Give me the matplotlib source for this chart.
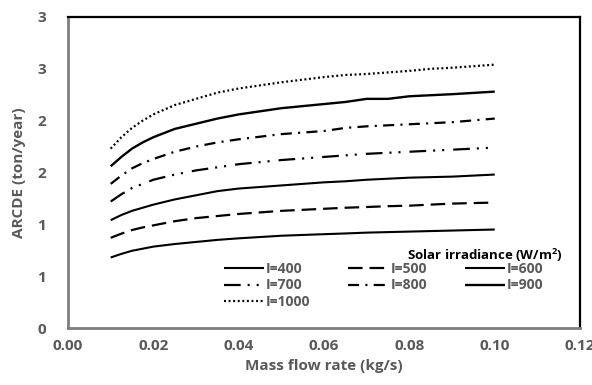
import matplotlib
matplotlib.use("Agg")
import matplotlib.pyplot as plt

# Mass flow rate (kg/s)
flow = [0.010, 0.0125, 0.015, 0.0175, 0.020, 0.025, 0.030, 0.035, 0.040,
        0.050, 0.060, 0.065, 0.070, 0.075, 0.080, 0.085, 0.090, 0.100]

# ARCDE (ton/year) per solar irradiance level
arcde_400 = [0.68, 0.715, 0.745, 0.765, 0.785, 0.81, 0.83, 0.85, 0.865,
             0.89, 0.905, 0.912, 0.92, 0.925, 0.93, 0.935, 0.94, 0.95]
arcde_500 = [0.87, 0.91, 0.945, 0.97, 0.99, 1.03, 1.06, 1.08, 1.10,
             1.13, 1.15, 1.16, 1.167, 1.175, 1.18, 1.19, 1.20, 1.21]
arcde_600 = [1.04, 1.09, 1.13, 1.16, 1.19, 1.24, 1.28, 1.32, 1.345,
             1.375, 1.405, 1.415, 1.43, 1.44, 1.45, 1.455, 1.46, 1.48]
arcde_700 = [1.22, 1.29, 1.35, 1.39, 1.43, 1.48, 1.52, 1.55, 1.58,
             1.62, 1.65, 1.665, 1.68, 1.69, 1.70, 1.71, 1.72, 1.74]
arcde_800 = [1.39, 1.47, 1.54, 1.59, 1.63, 1.70, 1.75, 1.79, 1.82,
             1.87, 1.90, 1.93, 1.945, 1.955, 1.965, 1.975, 1.985, 2.02]
arcde_900 = [1.56, 1.65, 1.73, 1.79, 1.84, 1.92, 1.97, 2.02, 2.06,
             2.12, 2.16, 2.18, 2.21, 2.21, 2.235, 2.245, 2.255, 2.28]
arcde_1000 = [1.73, 1.84, 1.93, 2.00, 2.06, 2.15, 2.21, 2.27, 2.31,
              2.37, 2.42, 2.44, 2.45, 2.465, 2.48, 2.50, 2.51, 2.54]

labels = ["I=400", "I=500", "I=600", "I=700", "I=800", "I=900", "I=1000"]

y_ticks = [0, 0.5, 1.0, 1.5, 2.0, 2.5, 3.0]
y_tick_labels = ["0", "1", "1", "2", "2", "3", "3"]
x_ticks = [0.00, 0.02, 0.04, 0.06, 0.08, 0.10, 0.12]

plt.rcParams["font.family"] = ["Open Sans", "DejaVu Sans"]
plt.rcParams["lines.scale_dashes"] = False
plt.rcParams["mathtext.fontset"] = "custom"
plt.rcParams["mathtext.bf"] = "Open Sans:bold"
plt.rcParams["mathtext.rm"] = "Open Sans:bold"
GREY = "#595959"

series = [arcde_400, arcde_500, arcde_600, arcde_700, arcde_800, arcde_900, arcde_1000]
styles = [
    dict(ls="-", lw=1.5),
    dict(ls=(0, (10.5, 5.0)), lw=1.6),
    dict(ls="-", lw=1.5),
    dict(ls=(0, (12.0, 5.0, 1.5, 5.0, 1.5, 6.5)), lw=1.6),
    dict(ls=(0, (8.0, 4.5, 1.5, 4.5)), lw=1.6),
    dict(ls="-", lw=1.7),
    dict(ls=(0, (1.4, 1.9)), lw=1.6),
]

fig = plt.figure(figsize=(5.92, 3.85), dpi=100, facecolor="white")
ax = fig.add_axes([0.1149, 0.148, 0.865, 0.808])

handles = []
for vals, lab, st in zip(series, labels, styles):
    h, = ax.plot(flow, vals, color="black", linestyle=st["ls"], lw=st["lw"],
                 dash_capstyle="butt", solid_capstyle="butt",
                 solid_joinstyle="round", label=lab)
    handles.append(h)

ax.set_xlim(0, 0.12)
ax.set_ylim(0, 3.0)
ax.set_xticks(x_ticks)
ax.set_xticklabels([f"{t:.2f}" for t in x_ticks])
ax.set_yticks(y_ticks)
ax.set_yticklabels(y_tick_labels)
ax.tick_params(length=0, labelsize=11, labelcolor=GREY)
ax.tick_params(axis="x", pad=8)
ax.tick_params(axis="y", pad=16)
for t in ax.get_xticklabels() + ax.get_yticklabels():
    t.set_fontweight("bold")

for side in ("top", "right"):
    ax.spines[side].set_color("black")
    ax.spines[side].set_linewidth(1.6)
for side in ("left", "bottom"):
    ax.spines[side].set_color("#7f7f7f")
    ax.spines[side].set_linewidth(2.0)

ax.set_xlabel("Mass flow rate (kg/s)", fontsize=11, fontweight="bold",
              color=GREY, labelpad=4)
ax.set_ylabel("ARCDE (ton/year)", fontsize=11, fontweight="bold",
              color=GREY, labelpad=8)

# column-wise order so rows read 400/500/600, 700/800/900, 1000
order = [0, 3, 6, 1, 4, 2, 5]
leg = ax.legend([handles[i] for i in order], [labels[i] for i in order],
                ncol=3, loc="lower right", bbox_to_anchor=(0.948, 0.03),
                frameon=False, fontsize=10, handlelength=2.9,
                handletextpad=0.12, columnspacing=2.75, labelspacing=0.18,
                borderpad=0.2)
for t in leg.get_texts():
    t.set_color(GREY)
    t.set_fontweight("bold")
ax.text(0.967, 0.235, "Solar irradiance (W/m$^\\mathbf{2}$)", transform=ax.transAxes,
        ha="right", va="center", fontsize=9.5, fontweight="bold", color="black")

fig.savefig("out.png", dpi=100, facecolor="white")
